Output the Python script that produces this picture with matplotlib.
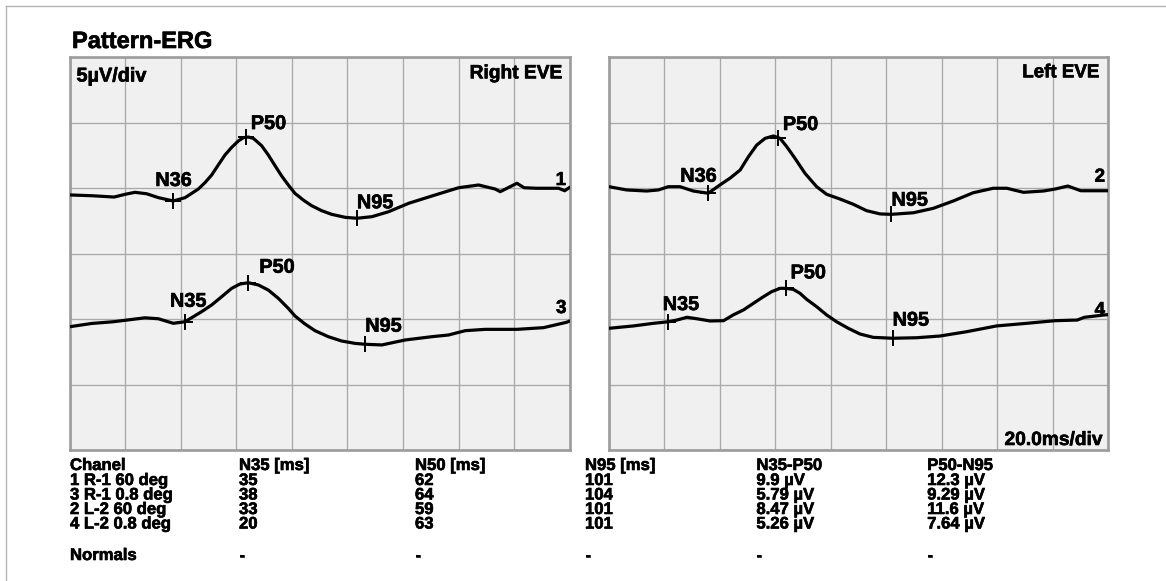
import matplotlib
matplotlib.use("Agg")
import matplotlib.pyplot as plt
import matplotlib.patheffects as pe
from matplotlib.lines import Line2D

# ---------------- data ----------------
# time in ms, amplitude in µV (relative to each trace's baseline)
t1 = [0, 8, 16, 20, 23.5, 27.7, 32, 37.3, 41.5, 46.3, 48.7, 51.1, 53.5, 55.9, 58.3, 60.7, 62.5, 64.3, 66.1, 69.1,
      71.5, 73.9, 76.3, 78.7, 81.1, 84.1, 87.1, 90.7, 94.3, 99.2, 103.4, 108.8, 114.8, 122, 130.4, 140, 147.2,
      153.2, 155, 161, 163.6, 168, 176, 178.2, 180]
v1 = [-0.53, -0.59, -0.69, -0.48, -0.33, -0.44, -0.74, -0.99, -0.74, -0.08, 0.41, 0.99, 1.76, 2.52, 3.1, 3.59, 3.84,
      3.89, 3.79, 3.23, 2.52, 1.71, 0.92, 0.23, -0.41, -0.92, -1.35, -1.73, -2.01, -2.24, -2.31, -2.19, -1.81, -1.17,
      -0.61, 0.02, 0.23, -0.08, -0.28, 0.36, 0.02, -0.02, -0.02, -0.21, 0.05]

t3 = [0, 7.9, 15.7, 27.1, 31.9, 37.3, 41.5, 47.5, 51.1, 54.7, 58.3, 61.3, 64.3, 67.9, 71.5, 75.1, 78.7, 81.1, 84.7,
      88.3, 93.1, 97.9, 102.7, 106.4, 112.4, 120.8, 130.4, 136.4, 142.4, 149.6, 155, 161, 170.6, 178.9, 180]
v3 = [-0.59, -0.34, -0.21, 0.09, 0.02, -0.33, -0.21, 0.56, 1.07, 1.7, 2.34, 2.67, 2.77, 2.6, 2.21, 1.58, 0.81, 0.23,
      -0.38, -0.89, -1.35, -1.68, -1.86, -1.93, -1.98, -1.6, -1.35, -1.22, -0.89, -0.79, -0.79, -0.79, -0.66, -0.25, -0.15]

t2 = [0, 6.4, 13.6, 17.8, 21.4, 25.6, 30.4, 35.8, 40, 43.6, 47.3, 50.3, 53.3, 56.3, 59.3, 61.7, 64.1, 67.1, 70.7,
      74.9, 78.5, 83.3, 88.2, 92.9, 97.8, 101.9, 109.8, 117, 124.2, 131.4, 138.6, 143.5, 149.5, 156.7, 160.9, 165.5,
      170.2, 180]
v2 = [0.1, -0.15, -0.23, -0.15, 0.1, 0.1, -0.23, -0.4, 0.23, 0.74, 1.37, 2.39, 3.28, 3.79, 3.97, 3.79, 3.16, 2.26, 1.12,
      0.1, -0.48, -0.84, -1.25, -1.73, -1.98, -2.01, -1.89, -1.55, -0.99, -0.36, -0.02, -0.02, -0.33, -0.23, -0.08, 0.15,
      -0.21, -0.21]

t4 = [0, 8.8, 16, 21.4, 24.5, 28.1, 31.7, 36.4, 41.3, 44.8, 48.5, 52.1, 55.7, 58.7, 61.7, 63.8, 66.5, 68.9, 71.3,
      74.9, 78.5, 82.1, 86.3, 90.6, 95.3, 102.3, 111, 119.4, 129, 139.8, 150.7, 156.7, 160.9, 168.9, 171.5, 178.7, 180]
v4 = [-0.71, -0.53, -0.33, -0.21, -0.08, 0.13, 0.02, -0.15, -0.13, 0.31, 0.69, 1.2, 1.7, 2.09, 2.34, 2.34, 2.26, 1.96,
      1.5, 0.94, 0.31, -0.21, -0.71, -1.15, -1.4, -1.47, -1.43, -1.3, -0.97, -0.53, -0.33, -0.21, -0.13, -0.08, 0.13,
      0.31, 0.33]

# baseline of each trace on the 0..30 µV display
offsets = {1: 20, 3: 10, 2: 20, 4: 10}

# peak markers (time ms, amplitude µV) and labels
mk1_t, mk1_v, mk1_lab = [37.3, 63.4, 103.4], [-0.99, 3.89, -2.31], ["N36", "P50", "N95"]
mk3_t, mk3_v, mk3_lab = [41.5, 64.3, 106.4], [-0.21, 2.77, -1.93], ["N35", "P50", "N95"]
mk2_t, mk2_v, mk2_lab = [35.8, 61.1, 101.9], [-0.4, 3.84, -2.01], ["N36", "P50", "N95"]
mk4_t, mk4_v, mk4_lab = [21.4, 63.8, 102.3], [-0.21, 2.34, -1.47], ["N35", "P50", "N95"]

# table
headers = ["Chanel", "N35 [ms]", "N50 [ms]", "N95 [ms]", "N35-P50", "P50-N95"]
channels = ["1 R-1 60 deg", "3 R-1 0.8 deg", "2 L-2 60 deg", "4 L-2 0.8 deg"]
n35 = [35, 38, 33, 20]
n50 = [62, 64, 59, 63]
n95 = [101, 104, 101, 101]
amp_n35_p50 = ["9.9", "5.79", "8.47", "5.26"]
amp_p50_n95 = ["12.3", "9.29", "11.6", "7.64"]
normals = ["Normals", "-", "-", "-", "-", "-"]

# ---------------- figure ----------------
W, H = 1166, 581
fig = plt.figure(figsize=(W / 100, H / 100), dpi=100)
fig.patch.set_facecolor("white")
FONT = ["Liberation Sans", "DejaVu Sans"]
HEAVY = [pe.withStroke(linewidth=0.45, foreground="black")]


def fx(x):
    return x / W


def fy(y):
    return 1 - y / H


def ftext(x, y, s, size, ha="left", va="baseline"):
    fig.text(fx(x), fy(y), s, fontsize=size, fontweight="bold", family=FONT,
             ha=ha, va=va, color="black", path_effects=HEAVY)


# outer frame (top & left)
fig.add_artist(Line2D([fx(5.7), 1], [fy(6), fy(6)], color="#b4b4b4", lw=1.0))
fig.add_artist(Line2D([fx(5.7), fx(5.7)], [fy(6), 0], color="#b4b4b4", lw=1.0))

ftext(72, 48, "Pattern-ERG", 17)


def make_panel(left_px, width_px):
    ax = fig.add_axes([fx(left_px), fy(450), width_px / W, 393 / H])
    ax.set_xlim(0, 180)
    ax.set_ylim(0, 30)
    ax.set_xticks(range(0, 181, 20))
    ax.set_yticks(range(0, 31, 5))
    ax.tick_params(length=0, labelbottom=False, labelleft=False)
    ax.set_facecolor("#f0f0f0")
    ax.grid(True, color="#a9a9a9", lw=0.95)
    ax.set_axisbelow(True)
    for sp in ax.spines.values():
        sp.set_color("#9c9c9c")
        sp.set_linewidth(1.9)
    return ax


axL = make_panel(69.7, 500)
axR = make_panel(609, 499)


def draw_trace(ax, t, v, off, mt, mv, labs, label_offsets):
    ax.plot(t, [a + off for a in v], color="black", lw=2.3,
            solid_joinstyle="round", solid_capstyle="round", zorder=3)
    ax.plot(mt, [a + off for a in mv], linestyle="none", marker="+", color="black",
            markersize=11.5, markeredgewidth=1.4, zorder=4)
    for x, y, s, (dx, dy) in zip(mt, mv, labs, label_offsets):
        ax.annotate(s, (x, y + off), xytext=(dx, dy), textcoords="offset pixels",
                    ha="left", va="baseline", fontsize=14.3, fontweight="bold",
                    family=FONT, zorder=5, path_effects=HEAVY)


draw_trace(axL, t1, v1, offsets[1], mk1_t, mk1_v, mk1_lab, [(-18, 15), (5, 8), (0, 10)])
draw_trace(axL, t3, v3, offsets[3], mk3_t, mk3_v, mk3_lab, [(-15, 15), (11, 10), (0, 12.6)])
draw_trace(axR, t2, v2, offsets[2], mk2_t, mk2_v, mk2_lab, [(-28, 11.5), (4.5, 7.7), (0, 8.6)])
draw_trace(axR, t4, v4, offsets[4], mk4_t, mk4_v, mk4_lab, [(-5.6, 11.7), (4.7, 10), (0, 12.6)])

# channel numbers
ftext(566, 185, "1", 13.5, ha="right")
ftext(566.4, 313, "3", 13.5, ha="right")
ftext(1105, 181.7, "2", 13.5, ha="right")
ftext(1105, 315, "4", 13.5, ha="right")

# panel captions
ftext(76.5, 81.5, "5µV/div", 14.3)
ftext(562, 78.3, "Right EVE", 13.8, ha="right")
ftext(1099.5, 77.3, "Left EVE", 13.5, ha="right")
ftext(1102.4, 445, "20.0ms/div", 13.8, ha="right")

# table
col_x = [70, 239, 415, 585, 756.4, 927.2]
row_y = [470, 485, 499.5, 514, 528.5]
for cx, h in zip(col_x, headers):
    ftext(cx, row_y[0], h, 12)
for i in range(len(channels)):
    vals = [channels[i], str(n35[i]), str(n50[i]), str(n95[i]),
            amp_n35_p50[i] + " µV", amp_p50_n95[i] + " µV"]
    for cx, s in zip(col_x, vals):
        ftext(cx, row_y[i + 1], s, 12)
for cx, s in zip(col_x, normals):
    ftext(cx, 560, s, 12)

fig.savefig("out.png", dpi=100, facecolor="white")
